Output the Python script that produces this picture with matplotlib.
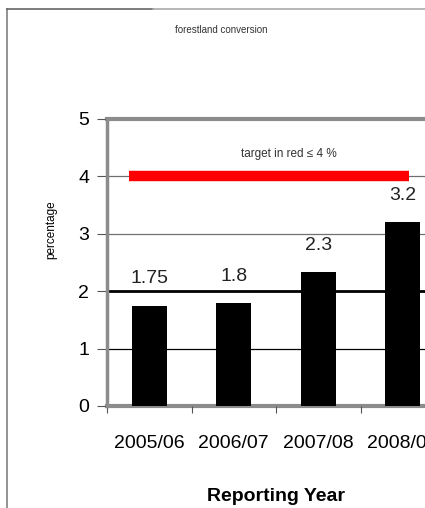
import matplotlib
matplotlib.use('Agg')
from matplotlib import pyplot as plt
from matplotlib.lines import Line2D

plt.rcParams['font.family'] = ['Liberation Sans', 'DejaVu Sans']

years = ['2005/06', '2006/07', '2007/08', '2008/09']
values = [1.75, 1.8, 2.33, 3.2]
labels = ['1.75', '1.8', '2.3', '3.2']
target = 4
yticks = [0, 1, 2, 3, 4, 5]

fig = plt.figure(figsize=(4.25, 5.08), dpi=100)
ax = fig.add_axes([0.252, 0.2008, 0.795, 0.565])

# grid lines like the excel original
ax.axhline(1, color='black', lw=0.9, zorder=1)
ax.axhline(3, color='#707070', lw=0.9, zorder=1)
ax.axhline(4, color='#707070', lw=0.9, zorder=1)
ax.axhline(2, color='black', lw=2.0, zorder=1)
ax.axhline(5, color='#8c8c8c', lw=3.0, zorder=1, clip_on=False)
ax.axhline(0, color='#8c8c8c', lw=3.0, zorder=1, clip_on=False)

x = list(range(len(years)))
ax.bar(x, values, width=0.41, color='black', zorder=3)
for xi, v, lab in zip(x, values, labels):
    ax.annotate(lab, (xi, v), xytext=(0, 13), textcoords='offset points',
                ha='center', va='bottom', fontsize=14, color='#222222')

ax.plot([-0.24, 3.07], [target, target], color='#ff0000', lw=7.5,
        solid_capstyle='butt', zorder=4)
ax.text(1.65, 4.28, 'target in red \u2264 4 %', ha='center', va='bottom',
        fontsize=8.5, color='#333333')

ax.set_xlim(-0.5, 3.5)
ax.set_ylim(0, 5)
ax.set_yticks(yticks)
ax.set_yticklabels([str(t) for t in yticks], fontsize=14)
ax.set_xticks([-0.5, 0.5, 1.5, 2.5, 3.5])
ax.set_xticklabels([])
ax.set_xticks(x, minor=True)
ax.set_xticklabels(years, minor=True, fontsize=14)
ax.tick_params(axis='x', which='minor', length=0, pad=21)
ax.tick_params(axis='x', which='major', length=5, direction='out', color='#555555')
ax.tick_params(axis='y', length=7, direction='out', color='#555555', pad=6)

for s in ['top', 'right', 'bottom']:
    ax.spines[s].set_visible(False)
ax.spines['left'].set_color('#8c8c8c')
ax.spines['left'].set_linewidth(2.5)

ax.set_xlabel('Reporting Year', fontsize=14, fontweight='bold', labelpad=26)

fig.text(0.12, 0.547, 'percentage', rotation=90, ha='center', va='center', fontsize=8.5)
fig.text(0.52, 0.94, 'forestland conversion', ha='center', va='center',
         fontsize=7, color='#333333')

# outer chart frame
fig.add_artist(Line2D([0.017, 0.017], [0.0, 0.982], color='#808080', lw=1.2))
fig.add_artist(Line2D([0.017, 0.36], [0.982, 0.982], color='#666666', lw=1.2))
fig.add_artist(Line2D([0.36, 1.0], [0.982, 0.982], color='#aaaaaa', lw=1.2))

fig.savefig('out.png', dpi=100)
